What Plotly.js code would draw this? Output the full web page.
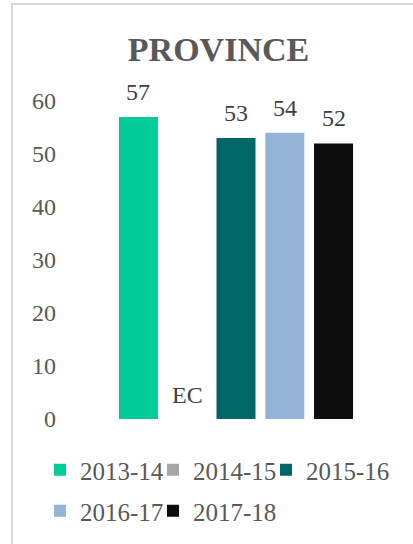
<!DOCTYPE html>
<html>
<head>
<meta charset="utf-8">
<script src="https://cdn.plot.ly/plotly-3.0.1.min.js"></script>
<style>
  html, body { margin: 0; padding: 0; background: #ffffff; overflow: hidden; }
  #frame { position: absolute; left: 11px; top: 3px; width: 520px; height: 620px;
           border: 2px solid #d9d9d9; box-sizing: border-box; }
  #chart { position: absolute; left: 0; top: 0; width: 413px; height: 544px; }
</style>
</head>
<body>
<div id="frame"></div>
<div id="chart"></div>
<script>
// ---- data ----
const categories = ['EC'];
const seriesNames = ['2013-14', '2014-15', '2015-16', '2016-17', '2017-18'];
const seriesColors = ['#00CC99', '#A5A5A5', '#006666', '#95B3D7', '#0D0D0D'];
const values2013 = [57];
const values2014 = [null];
const values2015 = [53];
const values2016 = [54];
const values2017 = [52];
const seriesValues = [values2013, values2014, values2015, values2016, values2017];
const yTicks = [0, 10, 20, 30, 40, 50, 60];

// ---- layout constants ----
const W = 413, H = 544;
const FONT = '"Liberation Serif", "Times New Roman", serif';
const bargap = 0.287;
const bargroupgap = 0.2;
const nSeries = seriesNames.length;
const groupWidth = 1 - bargap;
const slot = groupWidth / nSeries;
function slotCenter(i) { return -groupWidth / 2 + (i + 0.5) * slot; }

// legend entry placement (pixels in the 413x544 container): 3 per row
const legendCols = [40, 153, 266];
const legendRows = [470, 511];
const legendIds = seriesNames.map((_, i) => i === 0 ? 'legend' : 'legend' + (i + 1));

const traces = seriesNames.map((name, i) => ({
  type: 'bar',
  name: name,
  x: categories,
  y: seriesValues[i],
  marker: { color: seriesColors[i] },
  legend: legendIds[i],
  hoverinfo: 'name+y'
}));

const annotations = [];
seriesValues.forEach((vals, i) => {
  vals.forEach((v, k) => {
    if (v === null) {
      annotations.push({
        xref: 'x', yref: 'y', x: k + slotCenter(i), y: 0,
        text: categories[k], showarrow: false, xanchor: 'center', yanchor: 'bottom',
        yshift: 9, font: { family: FONT, size: 24, color: '#404040' }
      });
    } else {
      annotations.push({
        xref: 'x', yref: 'y', x: k + slotCenter(i), y: v,
        text: String(v), showarrow: false, xanchor: 'center', yanchor: 'bottom',
        yshift: 10, font: { family: FONT, size: 24, color: '#404040' }
      });
    }
  });
});

const layout = {
  width: W, height: H,
  margin: { l: 65, r: 6, t: 101, b: 125, pad: 0 },
  paper_bgcolor: 'rgba(0,0,0,0)',
  plot_bgcolor: 'rgba(0,0,0,0)',
  title: {
    text: '<b>PROVINCE</b>',
    font: { family: FONT, size: 34, color: '#595959' },
    xref: 'container', yref: 'container',
    x: 218.5 / W, xanchor: 'center',
    y: 1 - 49 / H, yanchor: 'middle'
  },
  barmode: 'group',
  bargap: bargap,
  bargroupgap: bargroupgap,
  xaxis: {
    type: 'category', range: [-0.5, 0.5], showticklabels: false,
    showgrid: false, zeroline: false, showline: false, ticks: '', fixedrange: true
  },
  yaxis: {
    range: [0, 60], tickvals: yTicks, showgrid: false, zeroline: false, showline: false,
    ticks: '', ticklabelstandoff: 8,
    tickfont: { family: FONT, size: 24, color: '#595959' }, fixedrange: true
  },
  annotations: annotations,
  showlegend: true
};

legendIds.forEach((id, i) => {
  layout[id] = {
    orientation: 'h', xref: 'container', yref: 'container',
    xanchor: 'left', yanchor: 'middle',
    x: legendCols[i % 3] / W, y: 1 - legendRows[Math.floor(i / 3)] / H,
    font: { family: FONT, size: 25, color: '#595959' },
    bgcolor: 'rgba(0,0,0,0)', borderwidth: 0
  };
});

Plotly.newPlot('chart', traces, layout, { displayModeBar: false, staticPlot: true });
</script>
</body>
</html>
